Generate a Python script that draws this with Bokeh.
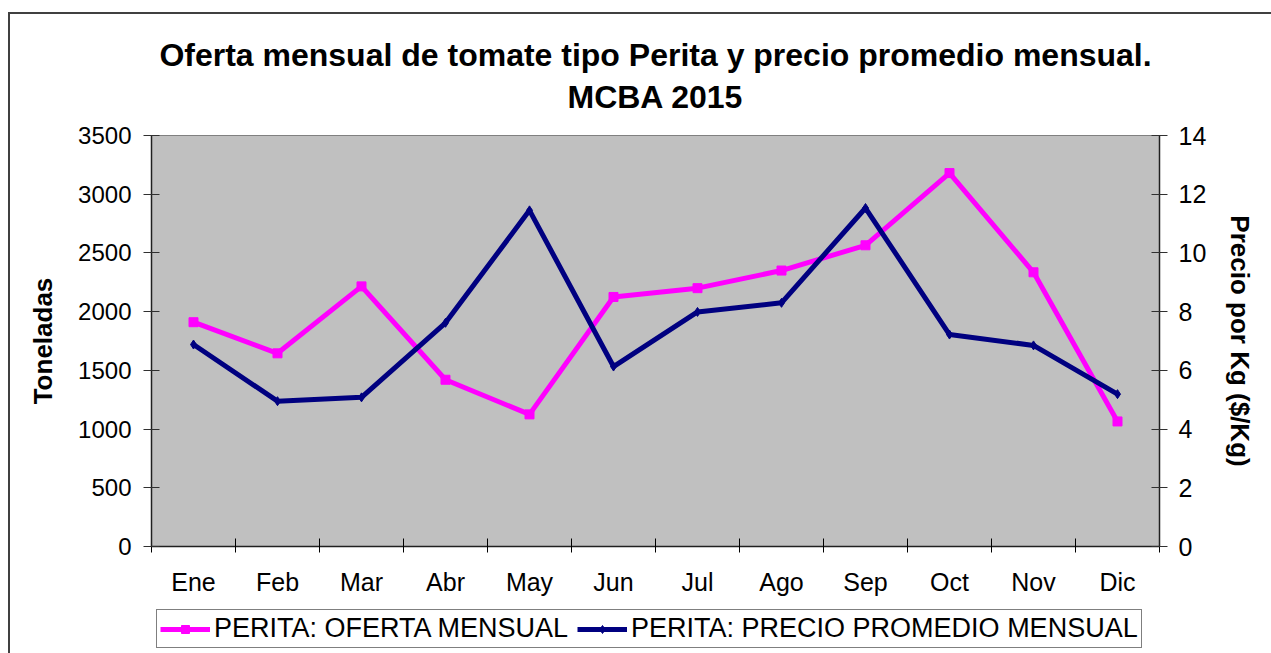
from bokeh.plotting import figure
from bokeh.models import Range1d, LinearAxis, FixedTicker, Legend, LegendItem
from bokeh.layouts import column
from bokeh.embed import file_html
from bokeh.resources import INLINE

meses = ["Ene", "Feb", "Mar", "Abr", "May", "Jun", "Jul", "Ago", "Sep", "Oct", "Nov", "Dic"]
oferta = [1910, 1645, 2215, 1420, 1125, 2125, 2200, 2350, 2565, 3180, 2335, 1065]
precio = [6.88, 4.95, 5.08, 7.62, 11.45, 6.13, 7.99, 8.3, 11.53, 7.22, 6.85, 5.19]
yticks_left = [0, 500, 1000, 1500, 2000, 2500, 3000, 3500]
yticks_right = [0, 2, 4, 6, 8, 10, 12, 14]
titulo = "Oferta mensual de tomate tipo Perita y precio promedio mensual.\nMCBA 2015"
serie1 = "PERITA: OFERTA MENSUAL"
serie2 = "PERITA: PRECIO PROMEDIO MENSUAL"

FONT = "Liberation Sans"
C1 = "#FF00FF"
C2 = "#000080"
xs = list(range(len(meses)))

p = figure(width=1261, height=590, output_backend="svg", toolbar_location=None,
           x_range=Range1d(-0.5, len(meses) - 0.5), y_range=Range1d(0, 3500),
           title=titulo,
           min_border_left=141, min_border_right=112, min_border_top=119, min_border_bottom=58)
p.background_fill_color = "#C0C0C0"
p.border_fill_color = "white"
p.outline_line_color = "#808080"
p.outline_line_width = 1
p.xgrid.visible = False
p.ygrid.visible = False

p.title.align = "center"
p.title.text_align = "center"
p.title.text_font = FONT
p.title.text_font_size = "32px"
p.title.text_font_style = "bold"
p.title.text_color = "black"
p.title.text_line_height = 1.18
p.title.standoff = 41

p.extra_y_ranges = {"precio": Range1d(0, 14)}

# bottom axis
xa = p.xaxis[0]
xa.ticker = FixedTicker(ticks=xs, minor_ticks=[i - 0.5 for i in range(len(meses) + 1)])
xa.major_label_overrides = {i: m for i, m in enumerate(meses)}
xa.major_tick_in = 0
xa.major_tick_out = 0
xa.minor_tick_in = 8
xa.minor_tick_out = 6
xa.minor_tick_line_color = "black"
xa.axis_line_color = "#202020"
xa.axis_line_width = 1.5
xa.major_label_standoff = 15
xa.major_label_text_font = FONT
xa.major_label_text_font_size = "25px"
xa.major_label_text_color = "black"

# left axis
ya = p.yaxis[0]
ya.ticker = FixedTicker(ticks=yticks_left)
ya.axis_label = "Toneladas"
ya.axis_label_text_font = FONT
ya.axis_label_text_font_size = "26px"
ya.axis_label_text_font_style = "bold"
ya.axis_label_text_color = "black"
ya.axis_label_standoff = 17
ya.major_tick_in = 8
ya.major_tick_out = 8
ya.major_tick_line_color = "#303030"
ya.axis_line_color = "#202020"
ya.axis_line_width = 1.5
ya.major_label_standoff = 12
ya.major_label_text_font = FONT
ya.major_label_text_font_size = "24px"
ya.major_label_text_color = "black"

# right axis
ya2 = LinearAxis(y_range_name="precio", ticker=FixedTicker(ticks=yticks_right))
ya2.axis_label = "Precio por Kg ($/Kg)"
ya2.axis_label_text_font = FONT
ya2.axis_label_text_font_size = "26px"
ya2.axis_label_text_font_style = "bold"
ya2.axis_label_text_color = "black"
ya2.axis_label_standoff = 16
ya2.major_tick_in = 8
ya2.major_tick_out = 8
ya2.major_tick_line_color = "#303030"
ya2.axis_line_color = "#202020"
ya2.axis_line_width = 1.5
ya2.major_label_standoff = 11
ya2.major_label_text_font = FONT
ya2.major_label_text_font_size = "25px"
ya2.major_label_text_color = "black"
p.add_layout(ya2, "right")

p.line(xs, oferta, line_color=C1, line_width=5)
p.scatter(xs, oferta, marker="square", size=9, fill_color=C1, line_color=C1)
p.line(xs, precio, line_color=C2, line_width=5, y_range_name="precio")
p.scatter(xs, precio, marker="diamond", size=9, fill_color=C2, line_color=C2, y_range_name="precio")

# legend strip (its frame is aligned with the chart frame by the column layout);
# the series are drawn here outside the visible y range so only the legend shows
q = figure(width=1261, height=49, output_backend="svg", toolbar_location=None,
           x_range=p.x_range, y_range=Range1d(-2, -1),
           x_axis_location=None, y_axis_location=None, title_location=None,
           min_border_left=0, min_border_right=0, min_border_top=0, min_border_bottom=0)
q.outline_line_color = None
q.background_fill_color = "white"
q.border_fill_color = "white"
q.xgrid.visible = False
q.ygrid.visible = False
la = q.line(xs, oferta, line_color=C1, line_width=5)
ma = q.scatter(xs, oferta, marker="square", size=9, fill_color=C1, line_color=C1)
lb = q.line(xs, precio, line_color=C2, line_width=5)
mb = q.scatter(xs, precio, marker="diamond", size=8, fill_color=C2, line_color=C2)
legend = Legend(items=[LegendItem(label=serie1, renderers=[la, ma]),
                       LegendItem(label=serie2, renderers=[lb, mb])],
                orientation="horizontal", location=(5, 5),
                border_line_color="black", border_line_width=1,
                background_fill_color="white", background_fill_alpha=1,
                label_text_font=FONT, label_text_font_size="27px", label_text_color="black",
                glyph_width=50, glyph_height=20, padding=3, margin=0,
                spacing=9, label_standoff=4)
q.add_layout(legend, "center")

layout = column(p, q, spacing=0,
                styles={"margin-left": "8px", "margin-top": "12px",
                        "border-top": "2px solid #404040", "border-left": "2px solid #404040"})

open("out.html", "w").write(file_html(layout, INLINE))
